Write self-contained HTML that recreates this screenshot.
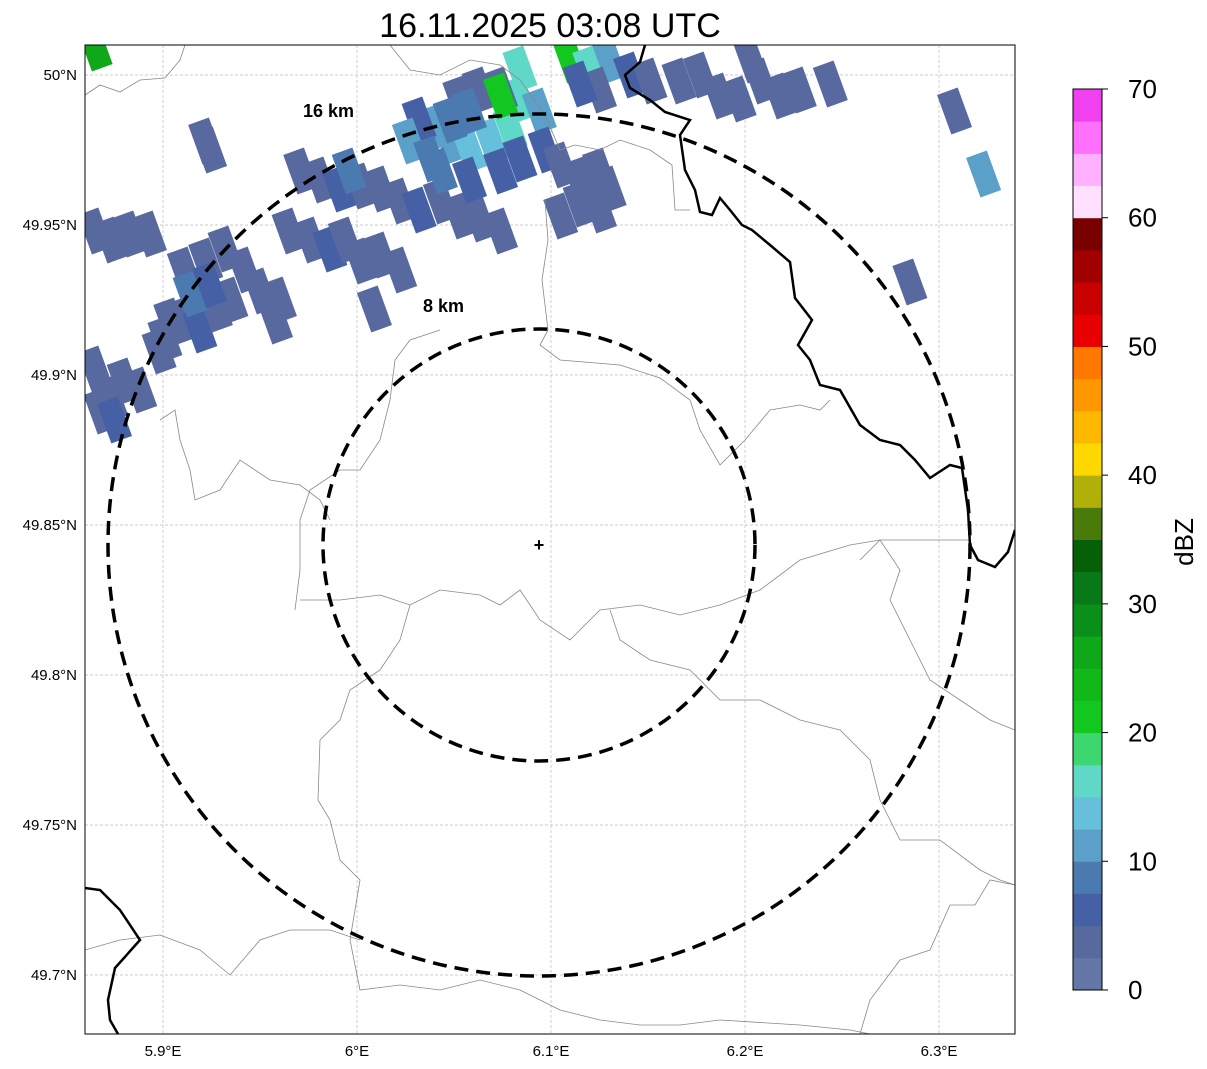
<!DOCTYPE html>
<html><head><meta charset="utf-8"><style>
body{margin:0;background:#fff;width:1207px;height:1069px;overflow:hidden;font-family:"Liberation Sans","DejaVu Sans",sans-serif}
svg{display:block}
</style></head><body>
<svg id="chart" width="1207" height="1069" xmlns="http://www.w3.org/2000/svg" font-family="Liberation Sans, DejaVu Sans, sans-serif">
<text x="550" y="37" font-size="34" text-anchor="middle">16.11.2025 03:08 UTC</text>
<defs><clipPath id="mapclip"><rect x="85" y="45" width="930" height="989"/></clipPath></defs>
<g id="map" clip-path="url(#mapclip)">
<g id="grid"></g>
<g id="echoes"></g>
<g fill="none" stroke="#888" stroke-width="0.8">
<polyline points="85,95 100,85 120,92 140,80 165,78 180,60 185,45"/>
<polyline points="300,600 340,600 380,595 410,605 440,590 480,595 500,605 520,590 540,620 570,640 600,610 640,605 680,615 720,605 760,590 800,560 850,545 880,540 930,540 970,540"/>
<polyline points="545,200 548,240 542,280 548,330 540,345 560,360 620,365 660,378 690,400 700,430 720,465 745,440 770,410 800,405 820,410 830,400"/>
<polyline points="390,45 410,70 440,75 470,60 500,65 520,80 545,115 560,150 575,145 600,150 620,140 650,150 672,165 675,210 690,210"/>
<polyline points="440,330 410,340 395,360 390,400 380,440 360,470 340,470 310,490 300,520 300,570 295,610"/>
<polyline points="160,420 175,410 180,440 190,470 195,500 220,490 240,460 270,480 300,485 320,500 330,520"/>
<polyline points="410,605 400,640 380,670 350,690 340,720 320,740 318,800 330,820 340,860 360,880 350,940 360,990 400,985 440,990 480,980 520,990 540,1000"/>
<polyline points="610,610 620,640 650,660 690,670 720,700 760,700 800,720 840,730 870,760 880,800 900,840 940,840 980,870 1000,880 1015,885"/>
<polyline points="860,560 880,540 900,570 890,600 910,640 930,680 960,700 990,720 1015,730"/>
<polyline points="85,950 120,940 160,935 200,950 230,975 260,940 290,930 330,930 360,940"/>
<polyline points="540,1000 560,1010 600,1020 640,1025 680,1025 720,1020 800,1025 850,1030 870,1034"/>
<polyline points="1015,885 990,880 975,905 950,905 930,950 900,960 870,1000 860,1034"/>
</g>
<g fill="none" stroke="#000" stroke-width="2.5">
<polyline points="645,45 640,62 625,75 630,88 650,100 665,112 690,120 680,135 685,170 695,190 700,212 712,215 720,198 730,210 742,225 752,230 770,245 790,262 795,298 812,320 798,345 810,360 820,385 840,390 860,425 880,440 900,445 915,460 930,478 950,465 962,468 968,510 970,545 978,560 995,567 1008,552 1015,530"/>
<polyline points="85,888 100,890 120,910 140,940 115,968 108,1000 110,1020 118,1034"/>
</g>
<g fill="none" stroke="#000" stroke-width="3.5" stroke-dasharray="14,8">
<ellipse cx="539" cy="545" rx="431" ry="431"/>
<ellipse cx="539" cy="545" rx="216" ry="216"/>
</g>
<text x="303" y="117" font-size="18" font-weight="bold">16 km</text>
<text x="423" y="312" font-size="18" font-weight="bold">8 km</text>
<text x="539" y="551" font-size="18" font-weight="bold" text-anchor="middle">+</text>
</g>
<rect x="85" y="45" width="930" height="989" fill="none" stroke="#000" stroke-width="1"/>
<g id="ticks" font-size="15"></g>
<g id="cbar"></g>
<text transform="translate(1193,542) rotate(-90)" font-size="26" text-anchor="middle">dBZ</text>
</svg>
<script>
const NS='http://www.w3.org/2000/svg';
const latTicks=[50,49.95,49.9,49.85,49.8,49.75,49.7];
const latLabels=['50°N','49.95°N','49.9°N','49.85°N','49.8°N','49.75°N','49.7°N'];
const lonTicks=[5.9,6.0,6.1,6.2,6.3];
const lonLabels=['5.9°E','6°E','6.1°E','6.2°E','6.3°E'];
const cbTicks=[0,10,20,30,40,50,60,70];
const cbColors=['#6577a8','#5869a0','#4560a5','#4a7ab0','#5aa0c8','#66c0dc','#60d8c8','#3dd670','#12c820','#10b818','#0ea818','#0a9018','#087818','#066008','#4a7a08','#b0b008','#ffd800','#ffb800','#ff9800','#ff7800','#e80000','#c80000','#a00000','#780000','#ffe0ff','#ffb0ff','#ff70ff','#f040f0'];
const cellLon=[5.865,5.873,5.883,5.893,5.865,5.873,5.868,5.880,5.875,5.888,5.901,5.909,5.919,5.927,5.935,5.911,5.922,5.932,5.942,5.950,5.960,5.958,5.914,5.924,5.898,5.904,5.922,5.924,
5.971,5.981,5.991,6.002,6.012,6.022,6.032,6.043,6.053,6.063,6.074,5.965,5.976,5.986,5.994,6.002,6.012,6.022,6.009,5.996,6.038,6.048,6.058,6.069,6.079,6.084,6.094,6.053,6.063,6.074,6.032,6.043,6.058,6.074,6.084,6.097,6.105,6.115,6.125,6.130,6.105,6.115,6.125,6.110,6.120,6.130,6.141,6.151,6.166,6.177,6.187,6.197,6.208,6.218,6.228,6.244,6.203,6.125,6.115,6.074,6.084,6.058,6.048,6.027,6.038,6.308,6.323,6.285,5.865];
const cellLat=[49.948,49.945,49.947,49.947,49.902,49.892,49.888,49.898,49.885,49.895,49.912,49.918,49.915,49.922,49.925,49.935,49.938,49.942,49.935,49.928,49.925,49.918,49.927,49.930,49.908,49.918,49.978,49.975,
49.968,49.965,49.962,49.963,49.962,49.958,49.955,49.958,49.953,49.952,49.948,49.948,49.945,49.942,49.945,49.938,49.940,49.935,49.922,49.968,49.982,49.978,49.975,49.978,49.982,49.992,49.988,49.992,49.995,49.995,49.985,49.968,49.965,49.968,49.972,49.975,49.970,49.965,49.968,49.962,49.953,49.957,49.955,50.005,50.002,50.005,50.000,49.998,49.998,50.000,49.993,49.992,49.998,49.993,49.995,49.997,50.005,49.995,49.997,49.993,50.002,49.988,49.985,49.978,49.972,49.988,49.967,49.931,50.009];
const cellDbz=[3,3,3,3,3,3,3,3,5,3,3,3,5,3,3,3,3,3,3,3,3,3,8,5,3,3,3,3,
3,3,5,3,3,3,5,3,3,3,3,3,3,5,3,3,3,3,3,8,10,12,13,13,15,15,10,3,3,3,5,8,5,5,5,5,3,3,3,3,3,3,3,20,15,10,5,3,3,3,3,3,3,3,3,3,3,3,5,20,15,8,8,12,8,3,10,3,25];
const X=lon=>163+(lon-5.9)*1940;
const Y=lat=>75+(50-lat)*3000;
const CB=v=>990-v*(990-89)/70;
function el(t,a,p){const e=document.createElementNS(NS,t);for(const k in a)e.setAttribute(k,a[k]);p.appendChild(e);return e;}
function colorFor(v){return cbColors[Math.min(27,Math.floor(v/2.5))];}
const grid=document.getElementById('grid'),ticks=document.getElementById('ticks');
latTicks.forEach((t,i)=>{
 const g=el('line',{x1:85,x2:1015,y1:Y(t),y2:Y(t),stroke:'#bbb','stroke-width':0.7,'stroke-dasharray':'3,2'},grid);
 
 
 const tx=el('text',{x:77,y:Y(t)+5,'text-anchor':'end'},ticks);tx.textContent=latLabels[i];
 
 
});
lonTicks.forEach((t,i)=>{
 const g=el('line',{y1:45,y2:1034,x1:X(t),x2:X(t),stroke:'#bbb','stroke-width':0.7,'stroke-dasharray':'3,2'},grid);
 
 
 const tx=el('text',{x:X(t),y:1056,'text-anchor':'middle'},ticks);tx.textContent=lonLabels[i];
 
 
});
const ech=document.getElementById('echoes');
cellLon.forEach((lo,i)=>{
 const x=X(lo),y=Y(cellLat[i]);
 const r=el('rect',{x:x-11,y:y-21,width:22,height:42,fill:colorFor(cellDbz[i]),transform:`rotate(-20 ${x} ${y})`},ech);
 
 
});
const cb=document.getElementById('cbar');
cbColors.forEach((c,i)=>{
 const y0=CB(i*2.5),y1=CB((i+1)*2.5);
 const r=el('rect',{x:1073,y:y1,width:29,height:y0-y1+0.5,fill:c},cb);
 
 
});
const fr=el('rect',{x:1073,y:89,width:29,height:901,fill:'none',stroke:'#000','stroke-width':1},cb);


cbTicks.forEach(v=>{
 const l=el('line',{x1:1102,x2:1108,y1:CB(v),y2:CB(v),stroke:'#000'},cb);
 
 
 const t=el('text',{x:1128,y:CB(v)+9,'font-size':26},cb);t.textContent=v;
 
 
});
</script>
</body></html>
